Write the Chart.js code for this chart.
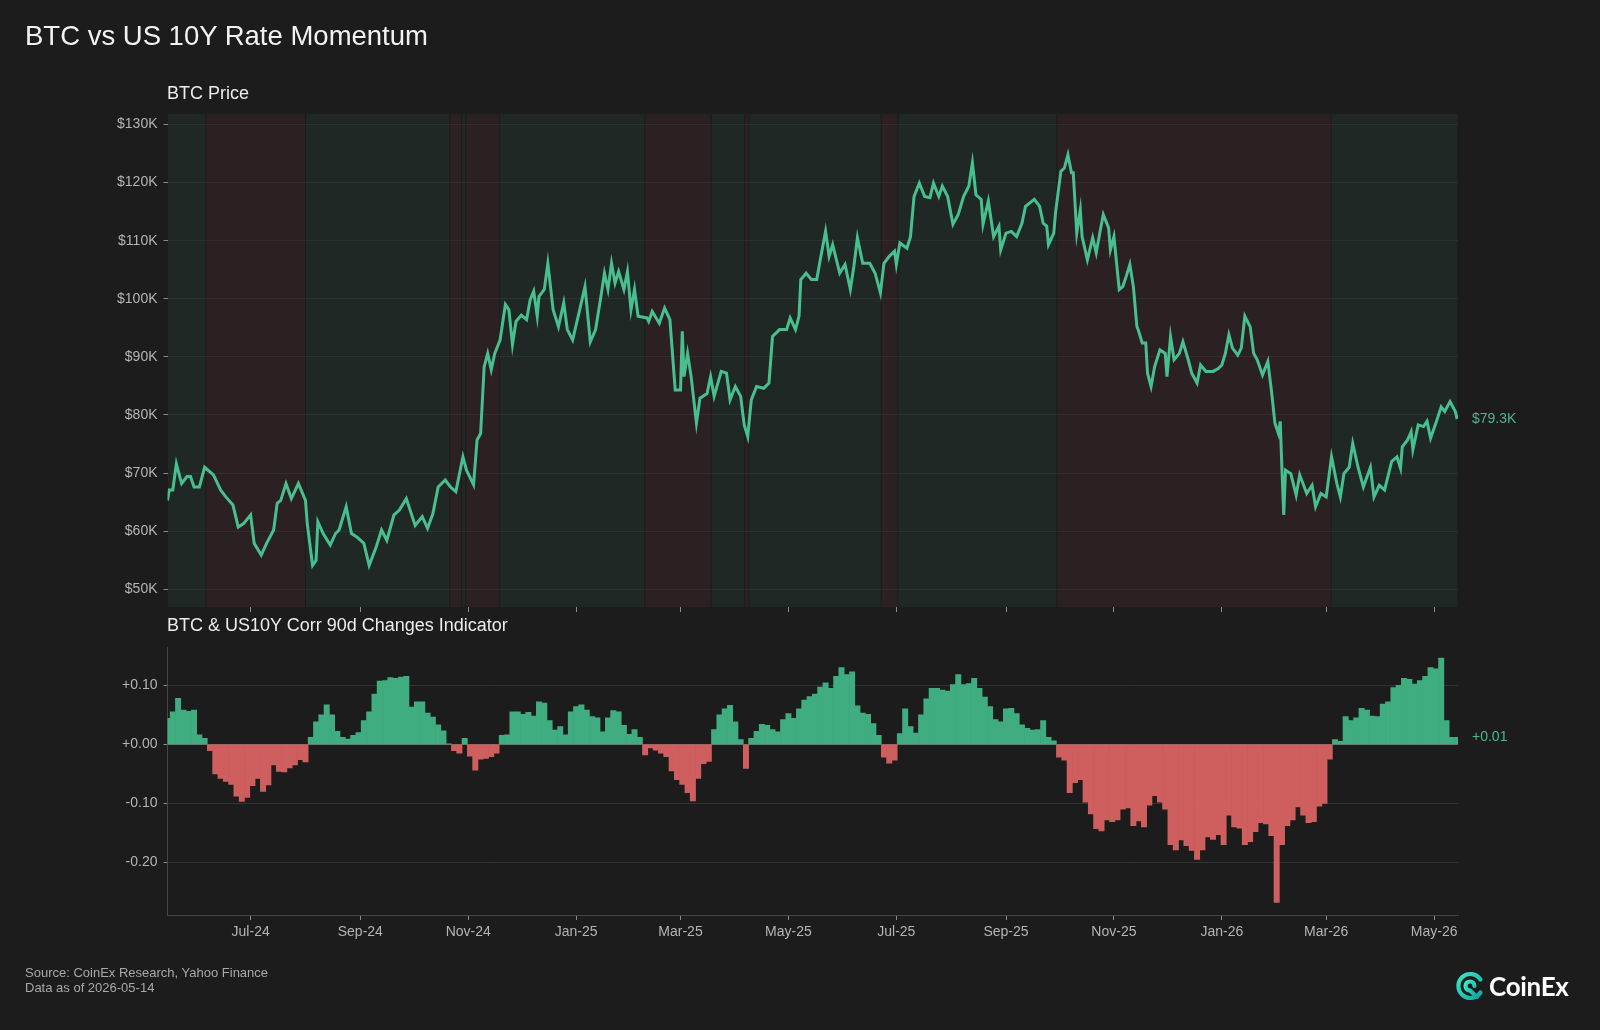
<!DOCTYPE html>
<html>
<head>
<meta charset="utf-8">
<title>BTC vs US 10Y Rate Momentum</title>
<script src="https://cdn.jsdelivr.net/npm/chart.js@4.4.1/dist/chart.umd.min.js"></script>
<style>
  body { margin: 0; width: 1600px; height: 1030px; background: #1c1c1c; overflow: hidden;
         font-family: "Liberation Sans", Arial, Helvetica, sans-serif; position: relative; }
  canvas { position: absolute; left: 0; }
  #priceChart { top: 0; }
  #corrChart { top: 640px; }
  .txt { position: absolute; white-space: nowrap; z-index: 2; }
  #title { left: 25px; top: 20px; font-size: 27.5px; color: #f2f2f2; }
  #sub1 { left: 167px; top: 83px; font-size: 18px; color: #ececec; }
  #sub2 { left: 167px; top: 615px; font-size: 18px; color: #ececec; }
  #source { left: 25px; top: 965px; font-size: 13px; line-height: 15px; color: #a8a8a8; }
  #logo { left: 1455px; top: 970px; display: flex; align-items: center; gap: 4px; }
  #logo span { font-family: Lato, "Liberation Sans", sans-serif; font-weight: 700; font-size: 26px; color: #ffffff; letter-spacing: -0.3px; }
</style>
</head>
<body>
<div class="txt" id="title">BTC vs US 10Y Rate Momentum</div>
<div class="txt" id="sub1">BTC Price</div>
<div class="txt" id="sub2">BTC &amp; US10Y Corr 90d Changes Indicator</div>
<div class="txt" id="source">Source: CoinEx Research, Yahoo Finance<br>Data as of 2026-05-14</div>
<div class="txt" id="logo">
  <svg width="30" height="30" viewBox="0 0 30 30">
    <defs>
      <linearGradient id="cx" x1="0" y1="0" x2="1" y2="1">
        <stop offset="0" stop-color="#3ee6c8"/>
        <stop offset="1" stop-color="#0fa9a0"/>
      </linearGradient>
    </defs>
    <path d="M25.5 21.5 A12 12 0 1 1 25.5 8.5" fill="none" stroke="url(#cx)" stroke-width="4.2" stroke-linecap="round"/>
    <path d="M19.5 15 A4.5 4.5 0 1 0 15 19.5 L22 26" fill="none" stroke="url(#cx)" stroke-width="4.2" stroke-linecap="round"/>
  </svg>
  <span>CoinEx</span>
</div>

<canvas id="priceChart" width="1600" height="640"></canvas>
<canvas id="corrChart" width="1600" height="390"></canvas>

<script>
// day 0 of the x axis
const START_DATE = "2024-05-15";

const monthStarts = ["2024-07-01", "2024-09-01", "2024-11-01", "2025-01-01", "2025-03-01", "2025-05-01",
  "2025-07-01", "2025-09-01", "2025-11-01", "2026-01-01", "2026-03-01", "2026-05-01"];
const monthLabels = ["Jul-24", "Sep-24", "Nov-24", "Jan-25", "Mar-25", "May-25",
  "Jul-25", "Sep-25", "Nov-25", "Jan-26", "Mar-26", "May-26"];

// BTC price (thousand USD); days counted from START_DATE
const priceDays = [0, 1, 3, 5, 8, 11, 13, 15, 18, 21, 26, 30, 33, 37, 40, 43, 47, 49, 53, 56,
  60, 62, 64, 67, 70, 74, 78, 79, 82, 84, 85, 88, 92, 95, 97, 101, 104, 107, 111, 114,
  118, 121, 124, 128, 131, 135, 140, 144, 147, 150, 153, 157, 160, 163, 167, 169, 173, 175, 177, 179,
  181, 183, 185, 188, 191, 193, 195, 197, 200, 203, 205, 207, 209, 210, 213, 215, 218, 221, 224, 226,
  229, 233, 236, 239, 242, 245, 247, 249, 251, 253, 255, 258, 260, 262, 264, 266, 271, 272, 274, 278,
  281, 284, 287, 290, 291, 292, 294, 296, 299, 301, 305, 307, 309, 313, 316, 318, 321, 324, 326, 328,
  330, 333, 337, 340, 342, 346, 350, 352, 355, 357, 358, 361, 364, 367, 369, 372, 374, 376, 380, 383,
  386, 388, 390, 393, 397, 400, 403, 405, 408, 411, 412, 414, 418, 420, 422, 425, 428, 431, 433, 436,
  438, 441, 444, 447, 450, 453, 455, 457, 460, 461, 464, 467, 470, 471, 474, 477, 480, 483, 485, 490,
  493, 495, 497, 498, 501, 502, 505, 507, 509, 511, 512, 514, 516, 517, 520, 523, 525, 527, 529, 532,
  533, 535, 538, 540, 542, 544, 546, 548, 549, 551, 553, 554, 556, 558, 561, 564, 565, 567, 569, 572,
  574, 577, 579, 582, 584, 587, 591, 594, 596, 598, 600, 602, 605, 607, 609, 612, 614, 616, 619, 622,
  624, 626, 628, 629, 630, 631, 632, 635, 638, 640, 644, 647, 649, 652, 655, 658, 661, 663, 665, 668,
  670, 673, 676, 680, 682, 685, 688, 692, 695, 697, 698, 701, 703, 704, 707, 710, 712, 714, 717, 720,
  722, 725, 728, 729];
const priceK = [65.3, 67.1, 67.1, 71.6, 68.2, 69.4, 69.4, 67.6, 67.6, 71.0, 69.7, 67.1, 65.9, 64.5, 60.7, 61.3, 62.8, 57.9, 55.9, 57.9,
  60.2, 64.8, 65.3, 68.2, 65.6, 68.2, 65.3, 61.3, 54.1, 55.0, 61.6, 59.6, 57.6, 59.6, 60.2, 64.2, 59.6, 59.0, 57.9, 54.1,
  57.3, 60.2, 58.4, 62.8, 63.6, 65.6, 61.0, 62.5, 60.5, 63.0, 67.6, 68.8, 67.6, 66.8, 72.8, 70.5, 68.0, 75.7, 76.8, 88.3,
  90.6, 87.8, 90.6, 92.9, 99.0, 98.1, 92.1, 96.1, 97.2, 96.4, 99.8, 101.3, 97.0, 100.4, 101.6, 106.1, 98.1, 95.2, 99.3, 94.7,
  92.9, 98.1, 102.1, 92.6, 94.7, 100.4, 104.4, 101.6, 106.1, 102.7, 104.7, 101.6, 104.7, 98.1, 101.6, 97.0, 96.7, 96.1, 97.8, 95.8,
  98.4, 96.4, 84.3, 84.3, 94.4, 86.6, 90.6, 86.6, 78.6, 82.9, 83.7, 86.6, 83.2, 87.5, 87.2, 82.6, 84.9, 83.2, 78.3, 76.3,
  82.6, 84.9, 84.6, 85.5, 93.5, 94.7, 94.7, 96.7, 94.7, 97.0, 103.3, 104.4, 103.3, 103.3, 106.7, 111.6, 107.3, 109.3, 104.4, 105.9,
  101.6, 105.6, 110.5, 106.1, 106.1, 104.4, 101.0, 106.1, 107.3, 108.2, 105.9, 109.6, 108.7, 110.7, 117.6, 119.9, 117.6, 117.4, 119.9, 117.6,
  119.4, 117.6, 112.8, 114.5, 117.6, 119.4, 123.4, 117.9, 117.1, 112.8, 116.8, 110.7, 112.5, 108.4, 111.3, 111.6, 110.7, 113.0, 115.9, 117.1,
  115.9, 113.0, 112.5, 109.3, 111.3, 114.8, 121.9, 122.5, 124.8, 121.7, 121.7, 111.3, 115.3, 110.7, 106.7, 110.5, 107.9, 111.3, 114.5, 112.2,
  108.4, 110.7, 101.6, 102.1, 103.9, 105.9, 102.1, 95.2, 94.4, 92.4, 92.4, 87.2, 84.9, 88.3, 91.2, 90.6, 86.6, 93.5, 89.5, 90.6,
  92.6, 89.5, 87.2, 85.5, 88.6, 87.5, 87.5, 88.0, 88.6, 90.6, 93.8, 91.5, 90.3, 91.5, 97.0, 95.2, 90.6, 89.5, 86.9, 89.2,
  84.3, 78.6, 76.8, 78.9, 70.5, 62.8, 70.5, 69.9, 66.2, 69.7, 66.5, 67.9, 64.2, 66.5, 65.9, 72.8, 68.2, 65.9, 69.9, 71.0,
  75.1, 71.0, 67.6, 71.0, 65.9, 67.9, 67.1, 72.0, 72.8, 70.8, 74.5, 75.7, 77.1, 74.0, 78.3, 78.0, 78.9, 76.0, 78.6, 81.4,
  80.6, 82.3, 80.6, 79.3];

// 90d corr change indicator, one value every 3 days from START_DATE
const CORR_STEP = 3;
const corrValues = [0.044, 0.055, 0.078, 0.058, 0.056, 0.058, 0.016, 0.010, -0.011, -0.050,
  -0.058, -0.063, -0.068, -0.088, -0.097, -0.090, -0.070, -0.058, -0.080, -0.069,
  -0.035, -0.046, -0.047, -0.040, -0.035, -0.026, -0.030, 0.012, 0.038, 0.050,
  0.067, 0.050, 0.022, 0.012, 0.009, 0.015, 0.020, 0.040, 0.055, 0.085,
  0.107, 0.108, 0.113, 0.112, 0.114, 0.115, 0.063, 0.072, 0.072, 0.053,
  0.046, 0.033, 0.023, 0.001, -0.011, -0.015, 0.010, -0.020, -0.044, -0.025,
  -0.024, -0.021, -0.015, 0.015, 0.016, 0.055, 0.055, 0.051, 0.054, 0.048,
  0.072, 0.070, 0.040, 0.024, 0.030, 0.016, 0.055, 0.064, 0.067, 0.058,
  0.047, 0.045, 0.021, 0.045, 0.057, 0.055, 0.032, 0.017, 0.025, 0.012,
  -0.018, -0.006, -0.010, -0.015, -0.021, -0.045, -0.060, -0.068, -0.082, -0.096,
  -0.058, -0.033, -0.029, 0.025, 0.050, 0.060, 0.066, 0.038, 0.008, -0.041,
  0.010, 0.022, 0.034, 0.032, 0.025, 0.021, 0.042, 0.052, 0.044, 0.060,
  0.075, 0.081, 0.085, 0.097, 0.104, 0.095, 0.115, 0.130, 0.118, 0.123,
  0.065, 0.053, 0.051, 0.035, 0.015, -0.022, -0.032, -0.027, 0.018, 0.060,
  0.030, 0.019, 0.050, 0.077, 0.095, 0.095, 0.092, 0.090, 0.101, 0.118,
  0.101, 0.103, 0.112, 0.095, 0.080, 0.064, 0.042, 0.038, 0.060, 0.061,
  0.052, 0.033, 0.027, 0.024, 0.025, 0.040, 0.012, 0.006, -0.022, -0.027,
  -0.082, -0.065, -0.060, -0.098, -0.118, -0.143, -0.147, -0.128, -0.131, -0.128,
  -0.110, -0.108, -0.138, -0.130, -0.140, -0.103, -0.087, -0.098, -0.110, -0.170,
  -0.179, -0.162, -0.172, -0.180, -0.195, -0.179, -0.157, -0.161, -0.153, -0.170,
  -0.120, -0.140, -0.142, -0.170, -0.165, -0.148, -0.133, -0.135, -0.155, -0.268,
  -0.170, -0.138, -0.128, -0.106, -0.120, -0.133, -0.131, -0.105, -0.100, -0.025,
  0.008, 0.005, 0.047, 0.040, 0.045, 0.061, 0.058, 0.048, 0.047, 0.068,
  0.072, 0.096, 0.100, 0.112, 0.110, 0.102, 0.108, 0.115, 0.130, 0.128,
  0.146, 0.040, 0.012, 0.012];

// shaded regimes behind the price (green = indicator up, red = down)
const regionFrom = [-1, 21.6, 78, 159.5, 166.2, 168.6, 187.8, 269.7, 307.4, 326.2, 328.8, 403.5, 412.9, 502.7, 657.8];
const regionTo = [21.6, 78, 159.5, 166.2, 168.6, 187.8, 269.7, 307.4, 326.2, 328.8, 403.5, 412.9, 502.7, 657.8, 731];
const regionTrend = ["up", "down", "up", "down", "up", "down", "up", "down", "up", "down", "up", "down", "up", "down", "up"];

const priceTicks = [50, 60, 70, 80, 90, 100, 110, 120, 130];
const corrTicks = [0.1, 0, -0.1, -0.2];

const X_MIN = 0;
const X_MAX = 729.5;
const LINE_GREEN = "#48bf8f";
const BAR_GREEN = "#40ad80";
const BAR_RED = "#cf5f5e";
const LABEL_GREEN = "#4fb58a";
const TICK_TEXT = "#b4b4b4";

Chart.defaults.font.family = '"Liberation Sans", Arial, Helvetica, sans-serif';
Chart.defaults.font.size = 14;
Chart.defaults.color = TICK_TEXT;

const dayOffset = (iso) => Math.round((Date.parse(iso) - Date.parse(START_DATE)) / 86400000);
const monthDays = monthStarts.map(dayOffset);
const corrDays = corrValues.map((v, i) => i * CORR_STEP);

const regimeBands = {
  id: "regimeBands",
  beforeDraw: (chart) => {
    const { ctx, chartArea, scales } = chart;
    ctx.save();
    regionFrom.forEach((from, i) => {
      let x0 = Math.max(scales.x.getPixelForValue(from), chartArea.left);
      let x1 = Math.min(scales.x.getPixelForValue(regionTo[i]), chartArea.right);
      ctx.fillStyle = regionTrend[i] === "up" ? "#1f2825" : "#2b2022";
      ctx.fillRect(x0 + 0.5, chartArea.top, x1 - x0 - 1, chartArea.bottom - chartArea.top);
    });
    ctx.restore();
  },
};

// value tag right of the last point
const lastValueTag = (text) => ({
  id: "lastValueTag",
  afterDraw: (chart) => {
    const { ctx, chartArea, scales } = chart;
    const data = chart.data.datasets[0].data;
    const last = data[data.length - 1].y;
    ctx.save();
    ctx.fillStyle = LABEL_GREEN;
    ctx.font = '14px "Liberation Sans", Arial, sans-serif';
    ctx.textBaseline = "middle";
    ctx.fillText(text(last), chartArea.right + 14, scales.y.getPixelForValue(last));
    ctx.restore();
  },
});

// keep chart.js from padding the plot for edge tick labels
const noEdgePadding = (scale) => {
  scale.paddingTop = 0;
  scale.paddingBottom = 0;
  scale.paddingLeft = 0;
  scale.paddingRight = 0;
};

const monthAxis = (showLabels, height) => ({
  type: "linear",
  min: X_MIN,
  max: X_MAX,
  offset: false,
  afterBuildTicks: (scale) => {
    scale.ticks = monthDays.map((v) => ({ value: v }));
  },
  afterFit: (scale) => {
    scale.height = height;
    noEdgePadding(scale);
  },
  ticks: {
    display: showLabels,
    autoSkip: false,
    maxRotation: 0,
    padding: 4,
    color: TICK_TEXT,
    callback: (v) => monthLabels[monthDays.indexOf(v)],
  },
  grid: { display: true, drawOnChartArea: false, offset: false, color: "#8a8a8a", tickLength: 5 },
});

const drawPriceChart = () => {
  new Chart(document.getElementById("priceChart"), {
    type: "line",
    data: {
      datasets: [
        {
          data: priceDays.map((d, i) => ({ x: d, y: priceK[i] })),
          borderColor: LINE_GREEN,
          borderWidth: 3,
          pointRadius: 0,
          tension: 0,
        },
      ],
    },
    options: {
      responsive: false,
      animation: false,
      layout: { padding: { top: 114, right: 142, left: 0, bottom: 0 } },
      plugins: { legend: { display: false }, tooltip: { enabled: false } },
      scales: {
        x: { ...monthAxis(false, 33), border: { display: false } },
        y: {
          min: 46.95,
          max: 131.8,
          afterBuildTicks: (scale) => {
            scale.ticks = priceTicks.map((v) => ({ value: v }));
          },
          afterFit: (scale) => {
            scale.width = 167.5;
            noEdgePadding(scale);
          },
          ticks: { padding: 6, callback: (v) => "$" + v + "K" },
          grid: { color: "rgba(255,255,255,0.055)", tickColor: "#8a8a8a", tickLength: 4 },
          border: { display: false },
        },
      },
    },
    plugins: [regimeBands, lastValueTag((v) => "$" + v.toFixed(1) + "K")],
  });
};

const drawCorrChart = () => {
  new Chart(document.getElementById("corrChart"), {
    type: "bar",
    data: {
      datasets: [
        {
          data: corrDays.map((d, i) => ({ x: d, y: corrValues[i] })),
          backgroundColor: corrValues.map((v) => (v >= 0 ? BAR_GREEN : BAR_RED)),
          borderWidth: 0,
          barPercentage: 1,
          categoryPercentage: 1,
        },
      ],
    },
    options: {
      responsive: false,
      animation: false,
      layout: { padding: { top: 7, right: 142, left: 0, bottom: 0 } },
      plugins: { legend: { display: false }, tooltip: { enabled: false } },
      scales: {
        x: { ...monthAxis(true, 115), border: { display: true, color: "#454545" } },
        y: {
          min: -0.2893,
          max: 0.1649,
          afterBuildTicks: (scale) => {
            scale.ticks = corrTicks.map((v) => ({ value: v }));
          },
          afterFit: (scale) => {
            scale.width = 167.5;
            noEdgePadding(scale);
          },
          ticks: { padding: 6, callback: (v) => (v >= 0 ? "+" : "") + v.toFixed(2) },
          grid: {
            color: (c) => (c.tick && c.tick.value === 0 ? "#6a6a6a" : "#333333"),
            tickColor: "#8a8a8a",
            tickLength: 4,
          },
          border: { display: true, color: "#454545" },
        },
      },
    },
    plugins: [lastValueTag((v) => (v >= 0 ? "+" : "") + v.toFixed(2))],
  });
};

drawPriceChart();
drawCorrChart();
</script>
</body>
</html>
